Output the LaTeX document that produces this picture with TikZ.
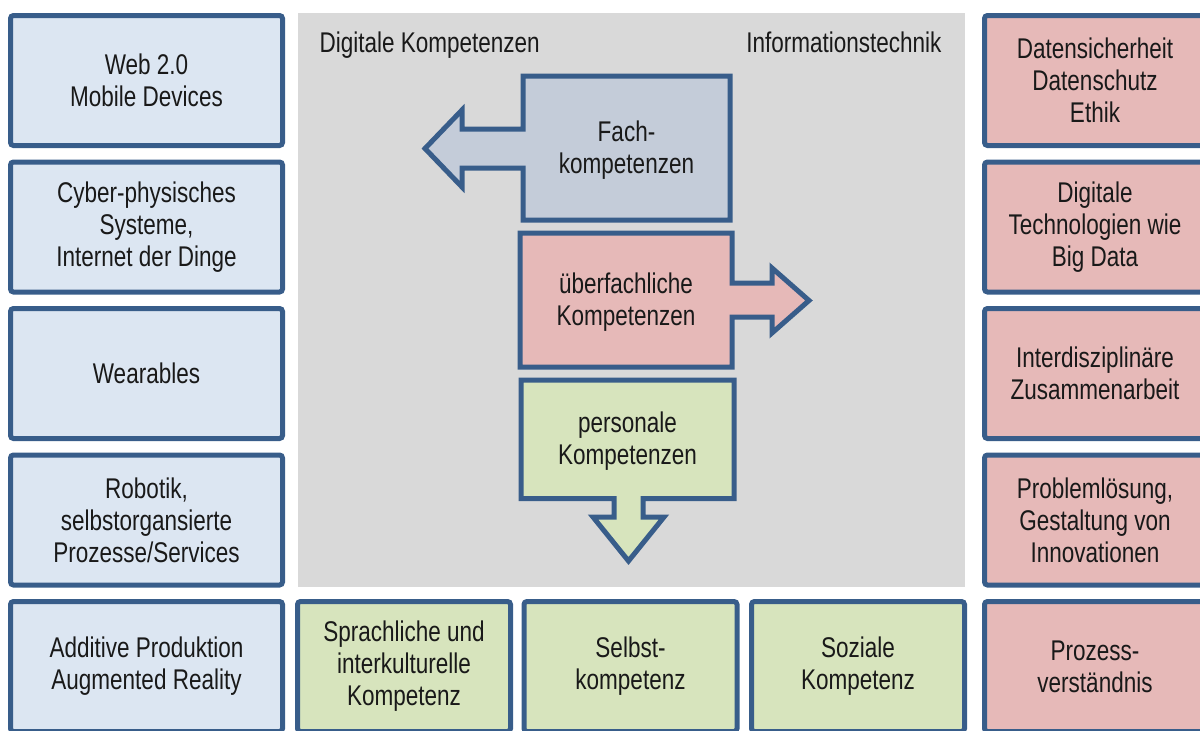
\documentclass[tikz,border=0pt]{standalone}
\usepackage{fontspec}
\setmainfont{Liberation Sans}[FakeStretch=0.79]
\usetikzlibrary{arrows}

\definecolor{rand}{HTML}{385D8A}
\definecolor{hellblau}{HTML}{DCE6F2}
\definecolor{rosa}{HTML}{E6B9B8}
\definecolor{gruen}{HTML}{D7E4BD}
\definecolor{graublau}{HTML}{C4CCD9}
\definecolor{grau}{HTML}{D9D9D9}

\begin{document}
\begin{tikzpicture}[x=1pt,y=-1pt,node distance=146.5pt,line width=5pt,
  every node/.style={font=\fontsize{28.5pt}{32pt}\selectfont,align=center,text=black!90},
  left node/.style={rectangle,rounded corners=3pt,draw=rand,fill=hellblau,
    minimum width=272pt,minimum height=130pt,inner sep=0pt},
  right node/.style={rectangle,rounded corners=3pt,draw=rand,fill=rosa,
    minimum width=221pt,minimum height=130pt,inner sep=0pt},
  green node/.style={rectangle,rounded corners=3pt,draw=rand,fill=gruen,
    minimum width=213pt,minimum height=130pt,inner sep=0pt},
  arrow box/.style={draw=rand,line join=miter}]

  \useasboundingbox (0,0) rectangle (1200,731);
  \clip (0,0) rectangle (1200,731);

  % grauer Hintergrund
  \fill[grau] (298,13) rectangle (965,587);
  \node[anchor=base west,inner sep=0pt] (digital) at (317,52.5) {Digitale Kompetenzen};
  \node[anchor=base east,inner sep=0pt] (infotech) at (944,52.5) {Informationstechnik};

  % linke Spalte
  \node[left node] (web) at (146.5,80.5) {Web 2.0\\Mobile Devices};
  \node[left node] (cps) [below of=web] {Cyber-physisches\\Systeme,\\Internet der Dinge};
  \node[left node] (wear) [below of=cps] {Wearables};
  \node[left node] (robot) [below of=wear] {Robotik,\\selbstorgansierte\\Prozesse/Services};
  \node[left node] (additiv) [below of=robot] {Additive Produktion\\Augmented Reality};

  % rechte Spalte
  \node[right node] (sicher) at (1095,80.5) {Datensicherheit\\Datenschutz\\Ethik};
  \node[right node] (techno) [below of=sicher] {Digitale\\Technologien wie\\Big Data};
  \node[right node] (inter) [below of=techno] {Interdisziplinäre\\Zusammenarbeit};
  \node[right node] (problem) [below of=inter] {Problemlösung,\\Gestaltung von\\Innovationen};
  \node[right node] (prozess) [below of=problem] {Prozess-\\verständnis};

  % untere Reihe
  \node[green node] (sprach) at (404,666.5) {Sprachliche und\\interkulturelle\\Kompetenz};
  \node[green node] (selbst) at (630.5,666.5) {Selbst-\\kompetenz};
  \node[green node] (sozial) at (858,666.5) {Soziale\\Kompetenz};

  % Pfeilkaesten
  \draw[arrow box,fill=graublau] (730,76) -- (523,76) -- (523,129) -- (462,129)
    -- (462,110) -- (425,148.5) -- (462,187) -- (462,168) -- (523,168)
    -- (523,220) -- (730,220) -- cycle;
  \draw[arrow box,fill=rosa] (520,233) -- (732,233) -- (732,283) -- (772,283)
    -- (772,268) -- (809,300.5) -- (772,333) -- (772,317) -- (732,317)
    -- (732,367) -- (520,367) -- cycle;
  \draw[arrow box,fill=gruen] (521,380) -- (734,380) -- (734,498.5) -- (643,498.5)
    -- (643,517) -- (664,517) -- (628.5,561) -- (593,517) -- (614,517)
    -- (614,498.5) -- (521,498.5) -- cycle;

  \node (fach) at (626.5,150) {Fach-\\kompetenzen};
  \node (ueber) at (626,302) {überfachliche\\Kompetenzen};
  \node (personal) at (627.5,441) {personale\\Kompetenzen};

\end{tikzpicture}
\end{document}
